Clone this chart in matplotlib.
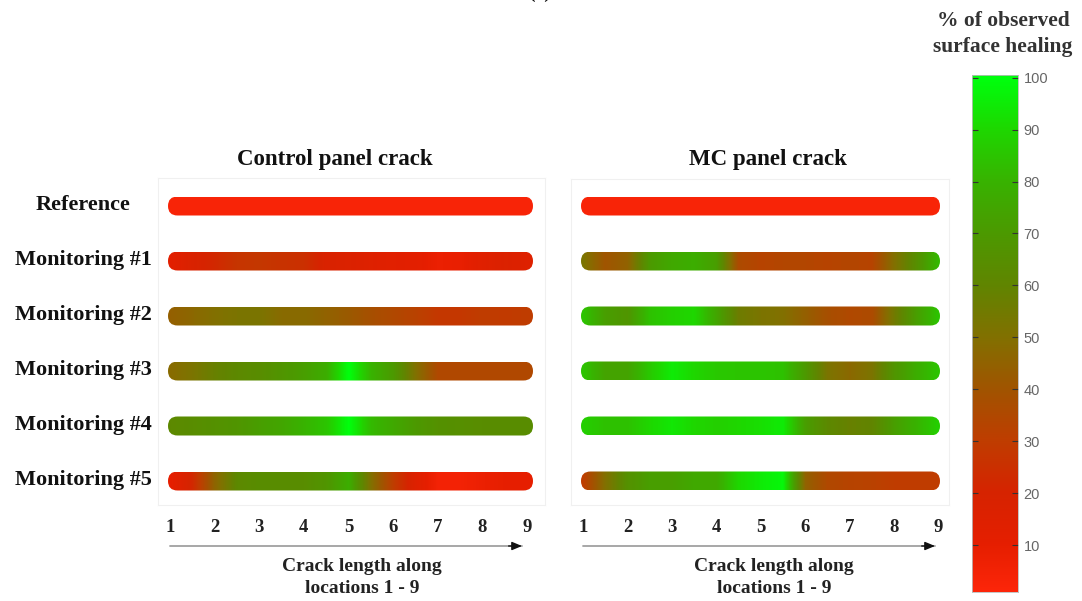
import numpy as np
import matplotlib
matplotlib.use("Agg")
import matplotlib.pyplot as plt
from matplotlib.colors import LinearSegmentedColormap, Normalize
from matplotlib.patches import FancyBboxPatch

# ---------------- data ----------------
row_labels = ["Reference", "Monitoring #1", "Monitoring #2",
              "Monitoring #3", "Monitoring #4", "Monitoring #5"]
panel_titles = ["Control panel crack", "MC panel crack"]
tick_labels = ["1", "2", "3", "4", "5", "6", "7", "8", "9"]
tick_positions = [1, 2, 3, 4, 5, 6, 7, 8, 9]
# sampling positions along the crack (every half location)
sample_positions = [1, 1.5, 2, 2.5, 3, 3.5, 4, 4.5, 5, 5.5, 6, 6.5, 7, 7.5, 8, 8.5, 9]

# % of observed surface healing, Control panel
control_ref = [3, 3, 3, 3, 3, 3, 3, 3, 3, 3, 3, 3, 3, 3, 3, 3, 3]
control_m1 = [12, 18, 22, 27, 28, 26, 25, 18, 17, 15, 13, 12, 8, 9, 14, 17, 15]
control_m2 = [44, 47, 50, 52, 52, 48, 48, 45, 42, 38, 35, 32, 28, 28, 30, 29, 30]
control_m3 = [48, 52, 58, 62, 64, 68, 72, 78, 100, 80, 70, 50, 35, 35, 35, 35, 35]
control_m4 = [62, 64, 66, 68, 72, 75, 80, 85, 100, 82, 76, 70, 66, 65, 64, 64, 64]
control_m5 = [10, 22, 46, 62, 64, 64, 64, 68, 78, 50, 30, 15, 5, 5, 8, 10, 10]

# % of observed surface healing, MC panel
mc_ref = [3, 3, 3, 3, 3, 3, 3, 3, 3, 3, 3, 3, 3, 3, 3, 3, 3]
mc_m1 = [52, 40, 45, 70, 76, 78, 72, 36, 33, 34, 34, 33, 34, 33, 50, 65, 82]
mc_m2 = [85, 72, 68, 84, 88, 90, 75, 56, 52, 50, 44, 38, 35, 36, 55, 72, 85]
mc_m3 = [85, 74, 74, 86, 95, 90, 86, 85, 85, 84, 70, 52, 47, 52, 68, 78, 85]
mc_m4 = [88, 84, 84, 90, 94, 90, 88, 90, 92, 95, 72, 62, 58, 60, 72, 80, 88]
mc_m5 = [30, 50, 66, 72, 72, 76, 76, 90, 95, 98, 45, 35, 33, 32, 30, 30, 30]

colorbar_ticks = [10, 20, 30, 40, 50, 60, 70, 80, 90, 100]

panels = [
    [control_ref, control_m1, control_m2, control_m3, control_m4, control_m5],
    [mc_ref, mc_m1, mc_m2, mc_m3, mc_m4, mc_m5],
]

# ---------------- style ----------------
cmap = LinearSegmentedColormap.from_list("heal", [
    (0.00, (1.00, 0.15, 0.04)),
    (0.10, (0.90, 0.12, 0.00)),
    (0.20, (0.84, 0.14, 0.00)),
    (0.30, (0.75, 0.24, 0.00)),
    (0.40, (0.63, 0.33, 0.00)),
    (0.50, (0.51, 0.44, 0.00)),
    (0.60, (0.38, 0.52, 0.00)),
    (0.70, (0.30, 0.60, 0.00)),
    (0.80, (0.22, 0.70, 0.00)),
    (0.90, (0.12, 0.84, 0.00)),
    (1.00, (0.00, 1.00, 0.05)),
])
norm = Normalize(vmin=0, vmax=100)

SERIF = ["Liberation Serif", "DejaVu Serif"]
W, H = 1082, 601
fig = plt.figure(figsize=(W / 100, H / 100), dpi=100)

ROW_PX = 55         # pixel distance between rows
BAR_PX = 19         # bar thickness in pixels

def fig_axes(x0, y0, x1, y1):
    return fig.add_axes([x0 / W, 1 - y1 / H, (x1 - x0) / W, (y1 - y0) / H])

panel_boxes = [(158, 178, 545, 505), (571, 179, 949, 505)]
loc_px = [(170, 527), (583, 938)]        # pixel of location 1 and 9
bar_px = [(168, 533), (581, 940)]        # pixel extent of the bars
title_x = [335, 768]
caption_x = [362, 774]

for p, (box, rows) in enumerate(zip(panel_boxes, panels)):
    x0, y0, x1, y1 = box
    S = (loc_px[p][1] - loc_px[p][0]) / 8.0
    ax = fig_axes(*box)
    xl = 1 - (loc_px[p][0] - x0) / S
    xr = xl + (x1 - x0) / S
    yt = (206 - y0) / S
    yb = yt - (y1 - y0) / S
    row = ROW_PX / S
    bh = BAR_PX / S
    bx0 = 1 + (bar_px[p][0] - loc_px[p][0]) / S
    bx1 = 1 + (bar_px[p][1] - loc_px[p][0]) / S
    for i, vals in enumerate(rows):
        yc = -i * row
        im = ax.imshow(np.array([vals], dtype=float), cmap=cmap, norm=norm,
                       extent=[0.75, 9.25, yc - bh / 2, yc + bh / 2],
                       interpolation="bilinear", interpolation_stage="data",
                       aspect="auto")
        pill = FancyBboxPatch((bx0, yc - bh / 2), bx1 - bx0, bh,
                              boxstyle=f"round,pad=0,rounding_size={bh / 2 * 0.999}",
                              facecolor="none", edgecolor="none")
        ax.add_patch(pill)
        im.set_clip_path(pill)
    ax.set_xlim(xl, xr)
    ax.set_ylim(yb, yt)
    ax.set_yticks([])
    ax.set_xticks(tick_positions)
    ax.set_xticklabels(tick_labels, fontfamily=SERIF, fontweight="bold",
                       fontsize=13.5, color="#222222")
    ax.tick_params(axis="x", length=0, pad=10)
    for s in ax.spines.values():
        s.set_color("#f0f0f0")
        s.set_linewidth(0.8)
    # arrow along crack length
    trans = ax.get_xaxis_transform()
    ay = -(546 - y1) / (y1 - y0)
    tip = 1 + 352 / S
    ax.annotate("", xy=(tip, ay), xytext=(1.0, ay), xycoords=trans,
                textcoords=trans, annotation_clip=False,
                arrowprops=dict(arrowstyle="-", color="#a0a0a0", lw=1.3,
                                shrinkA=0, shrinkB=0))
    ax.annotate("", xy=(tip, ay), xytext=(tip - 0.3, ay), xycoords=trans,
                textcoords=trans, annotation_clip=False,
                arrowprops=dict(arrowstyle="-|>,head_length=0.6,head_width=0.25",
                                color="#111111", lw=1.0, shrinkA=0, shrinkB=0))
    cx = 1 + (caption_x[p] - loc_px[p][0]) / S
    ax.text(cx, -(577.5 - y1) / (y1 - y0), "Crack length along\nlocations 1 - 9",
            transform=trans, ha="center", va="center", fontfamily=SERIF,
            fontweight="bold", fontsize=14, color="#222222", linespacing=1.4)
    fig.text(title_x[p] / W, 1 - 160 / H, panel_titles[p], ha="center",
             va="center", fontfamily=SERIF, fontweight="bold", fontsize=16.5,
             color="#111111")

# row labels
for i, lab in enumerate(row_labels):
    fig.text(83 / W, 1 - (205 + i * ROW_PX) / H, lab, ha="center", va="center",
             fontfamily=SERIF, fontweight="bold", fontsize=16, color="#111111")

# colorbar
cax = fig_axes(972, 75, 1018, 592)
grad = np.linspace(1, 100.5, 512).reshape(-1, 1)
cax.imshow(grad, cmap=cmap, norm=norm, origin="lower",
           extent=[0, 1, 1, 100.5], aspect="auto", interpolation="bilinear")
cax.set_xlim(0, 1)
cax.set_ylim(1, 100.5)
cax.set_xticks([])
cax.yaxis.tick_right()
cax.set_yticks(colorbar_ticks)
cax.set_yticklabels([str(t) for t in colorbar_ticks], fontfamily="Liberation Sans",
                    fontsize=10.5, color="#666666")
cax.tick_params(axis="y", which="both", direction="in", length=4, width=0.8,
                color="#333333", pad=4, left=True, right=True)
for s in cax.spines.values():
    s.set_color("#bbbbbb")
    s.set_linewidth(0.6)

fig.text(1003 / W, 1 - 34 / H, "% of observed\nsurface healing", ha="center",
         va="center", fontfamily=SERIF, fontweight="bold", fontsize=15.5,
         color="#333333", linespacing=1.45)

# panel letter, cut at top edge as in the source image
fig.text(540 / W, 1 - 2 / H, "(a)", ha="center", va="bottom",
         fontfamily=SERIF, fontweight="bold", fontsize=14, color="#111111")

fig.savefig("out.png", dpi=100, facecolor="white")
